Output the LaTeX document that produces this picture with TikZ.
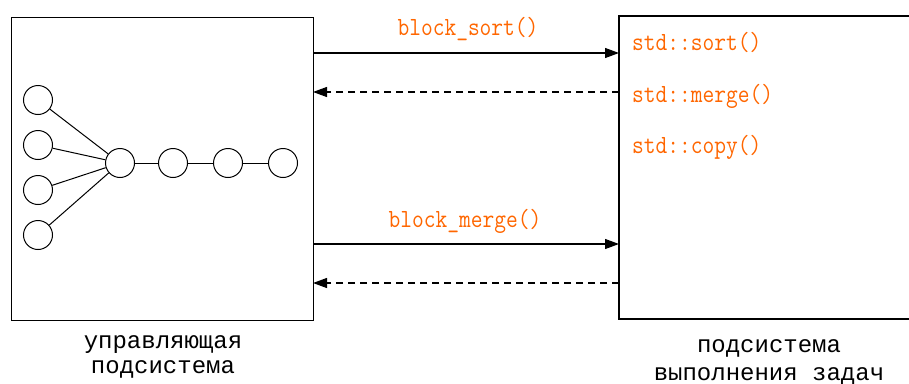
\documentclass[tikz,border=0pt]{standalone}
\usepackage{fontspec}
\newfontfamily\courfont{Liberation Mono}
\newfontfamily\codefont{Latin Modern Mono}
\usetikzlibrary{arrows.meta}
\definecolor{codeorange}{RGB}{255,102,0}
\tikzset{
  frame/.style={draw, line width=1.3pt},
  node circ/.style={circle, draw, line width=1pt, minimum size=29pt, inner sep=0pt},
  link/.style={line width=1pt},
  call/.style={line width=1.2pt, -{Triangle[length=14pt,width=10pt]}},
  reply/.style={line width=1.2pt, dash pattern=on 7pt off 5pt, -{Triangle[length=14pt,width=10pt]}},
  codelbl/.style={text=codeorange, inner sep=0pt, font=\codefont\fontsize{22.8}{26}\selectfont},
  caption/.style={text=black, inner sep=0pt, anchor=base, font=\courfont\fontsize{24}{28}\selectfont}
}
\begin{document}
\begin{tikzpicture}[x=1pt, y=-1pt]
\useasboundingbox (0,0) rectangle (909,383);
% left box
\node[frame, rectangle, anchor=north west, minimum width=302pt, minimum height=303pt, inner sep=0pt] (L) at (11,17) {};
% right box (right side beyond the picture)
\coordinate (RTL) at (619,16);
\coordinate (RBL) at (619,319);
\coordinate (RTR) at (915,16);
\coordinate (RBR) at (915,319);
\draw[line width=1.3pt] (RTR) -- (RTL) -- (RBL) -- (RBR);
% arrow end points
\coordinate (a1s) at (313,53);  \coordinate (a1e) at (619,53);
\coordinate (a2s) at (619,92);  \coordinate (a2e) at (313,92);
\coordinate (a3s) at (313,244); \coordinate (a3e) at (619,244);
\coordinate (a4s) at (619,283); \coordinate (a4e) at (313,283);
\draw[call] (a1s) -- (a1e);
\draw[reply] (a2s) -- (a2e);
\draw[call] (a3s) -- (a3e);
\draw[reply] (a4s) -- (a4e);
% labels
\node[codelbl, anchor=base] (l1) at (468,35) {\scalebox{1}[1.15]{block\_sort()}};
\node[codelbl, anchor=base] (l2) at (465,227) {\scalebox{1}[1.15]{block\_merge()}};
\node[codelbl, anchor=base west] (s1) at (632,50) {\scalebox{1}[1.15]{std::sort()}};
\node[codelbl, anchor=base west] (s2) at (632,102) {\scalebox{1}[1.15]{std::merge()}};
\node[codelbl, anchor=base west] (s3) at (632,153) {\scalebox{1}[1.15]{std::copy()}};
% graph
\node[node circ] (c1) at (38,100) {};
\node[node circ] (c2) at (38,145) {};
\node[node circ] (c3) at (38,190) {};
\node[node circ] (c4) at (38,235) {};
\node[node circ] (h) at (120,163) {};
\node[node circ] (d1) at (173,163) {};
\node[node circ] (d2) at (228,163) {};
\node[node circ] (d3) at (283,163) {};
\draw[link] (c1) -- (h);
\draw[link] (c2) -- (h);
\draw[link] (c3) -- (h);
\draw[link] (c4) -- (h);
\draw[link] (h) -- (d1);
\draw[link] (d1) -- (d2);
\draw[link] (d2) -- (d3);
% captions
\node[caption] (cl1) at (163,348) {управляющая};
\node[caption] (cl2) at (163,373) {подсистема};
\node[caption] (cr1) at (769,352) {подсистема};
\node[caption] (cr2) at (769,380) {выполнения задач};
\end{tikzpicture}
\end{document}
